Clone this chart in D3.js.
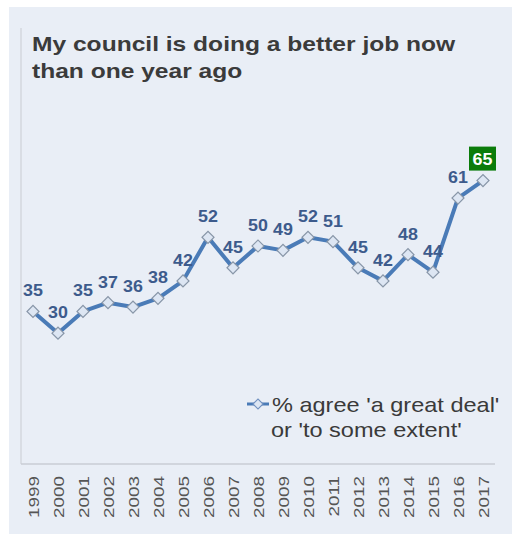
<!DOCTYPE html>
<html><head><meta charset="utf-8">
<script src="https://cdn.jsdelivr.net/npm/d3@7"></script>
<style>html,body{margin:0;padding:0;background:#fff;}svg{display:block;}</style>
</head><body>
<script>
const years = ["1999","2000","2001","2002","2003","2004","2005","2006","2007","2008","2009","2010","2011","2012","2013","2014","2015","2016","2017"];
const values = [35,30,35,37,36,38,42,52,45,50,49,52,51,45,42,48,44,61,65];
const titleLines = ["My council is doing a better job now","than one year ago"];
const legendLines = ["% agree 'a great deal'","or 'to some extent'"];

const FONT="Liberation Sans, Arial, sans-serif";
const W=512,H=534;
const svg=d3.select("body").append("svg").attr("width",W).attr("height",H);
svg.append("rect").attr("x",9).attr("y",7).attr("width",W-9).attr("height",H-7).attr("fill","#e9eef6");

// widen glyphs to match the reference's wider lettering
function stretch(sel,factor){
  sel.each(function(){
    const n=this.getComputedTextLength();
    d3.select(this).attr("textLength",n*factor).attr("lengthAdjust","spacingAndGlyphs");
  });
}

const x=d3.scalePoint().domain(years).range([33,483]);
const y=d3.scaleLinear().domain([0,100]).range([464,28]);

svg.append("line").attr("x1",21).attr("x2",21).attr("y1",28).attr("y2",464).attr("stroke","#d3d7de").attr("stroke-width",1.5);
const xAxis=svg.append("g").attr("transform","translate(0,464)").call(d3.axisBottom(x).tickSize(0));
xAxis.select(".domain").attr("d","M21,0H495").attr("stroke","#c9cdd4").attr("stroke-width",1.5);
xAxis.selectAll(".tick text").attr("transform","rotate(-90)").attr("text-anchor","end")
  .attr("x",-12).attr("y",0).attr("dy","0.36em")
  .style("font-family",FONT).style("font-size","14.5px").attr("fill","#555");
stretch(xAxis.selectAll(".tick text"),1.3);

// title
const tt=svg.append("g").attr("font-family",FONT).attr("font-weight","bold").attr("font-size","21px").attr("fill","#3b3b3b");
tt.selectAll("text").data(titleLines).join("text").attr("x",32).attr("y",(d,i)=>51+i*27).text(d=>d);
stretch(tt.selectAll("text"),1.17);

const data=years.map((yr,i)=>({yr,v:values[i]}));
const line=d3.line().x(d=>x(d.yr)).y(d=>y(d.v));
svg.append("path").datum(data).attr("d",line).attr("fill","none").attr("stroke","#4a7bb7").attr("stroke-width",4).attr("stroke-linejoin","round");

const diamond=d3.symbol().type(d3.symbolSquare).size(72);
svg.selectAll(".pt").data(data).join("path").attr("class","pt")
  .attr("d",diamond).attr("transform",d=>`translate(${x(d.yr)},${y(d.v)}) rotate(45)`)
  .attr("fill","#dde6f3").attr("stroke","#8896a8").attr("stroke-width",1.2);

const last=data.length-1;
svg.selectAll(".lbl").data(data.slice(0,last)).join("text").attr("class","lbl")
  .attr("x",d=>x(d.yr)).attr("y",d=>y(d.v)-15).attr("text-anchor","middle")
  .attr("font-family",FONT).attr("font-weight","bold").attr("font-size","17px").attr("fill","#3d5b8c")
  .text(d=>d.v);
stretch(svg.selectAll(".lbl"),1.05);
const ld=data[last];
svg.append("rect").attr("x",x(ld.yr)-14).attr("y",y(ld.v)-34).attr("width",27).attr("height",24).attr("fill","#0b7c0b");
const t65=svg.append("text").attr("x",x(ld.yr)-0.5).attr("y",y(ld.v)-16).attr("text-anchor","middle")
  .attr("font-family",FONT).attr("font-weight","bold").attr("font-size","17px").attr("fill","#fff").text(ld.v);
stretch(t65,1.05);

// legend
const lg=svg.append("g");
lg.append("line").attr("x1",247).attr("x2",269).attr("y1",404).attr("y2",404).attr("stroke","#4a7bb7").attr("stroke-width",3);
lg.append("path").attr("d",d3.symbol().type(d3.symbolSquare).size(50)).attr("transform","translate(258,404) rotate(45)").attr("fill","#dde6f3").attr("stroke","#6f8fbf").attr("stroke-width",1.2);
const lt=lg.append("g").attr("font-family",FONT).attr("font-size","21px").attr("fill","#3a3a3a");
lt.selectAll("text").data(legendLines).join("text").attr("x",(d,i)=>i?271:272).attr("y",(d,i)=>412+i*25).text(d=>d);
stretch(lt.selectAll("text"),1.12);
</script>
</body></html>
